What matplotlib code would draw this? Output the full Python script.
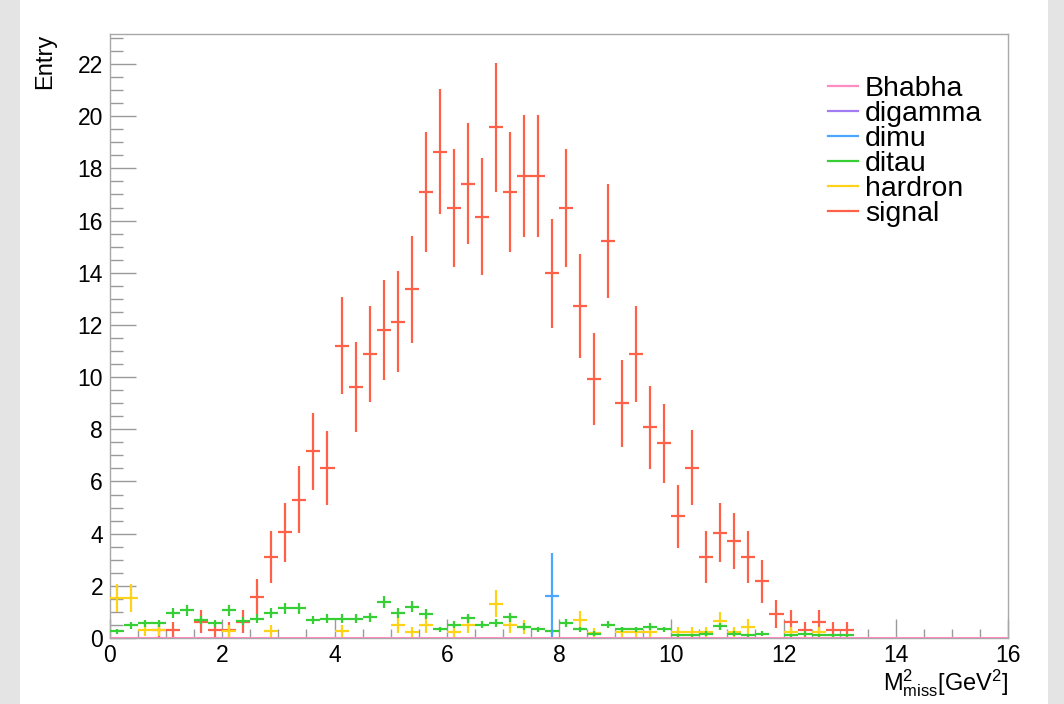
import numpy as np
import matplotlib
matplotlib.use('Agg')
import matplotlib.pyplot as plt
from matplotlib.patches import Rectangle

plt.rcParams['font.family'] = ['Liberation Sans', 'DejaVu Sans']
plt.rcParams['mathtext.fontset'] = 'custom'
plt.rcParams['mathtext.rm'] = 'Liberation Sans'
plt.rcParams['mathtext.it'] = 'Liberation Sans'

# histogram: 64 bins of 0.25 GeV^2 from 0 to 16
edges = np.linspace(0, 16, 65)

signal = [0, 0, 0, 0.31, 0.31, 0, 0.62, 0.31, 0.31, 0.62,
          1.56, 3.11, 4.05, 5.30, 7.15, 6.52, 11.21, 9.62, 10.88, 11.82,
          12.12, 13.36, 17.10, 18.64, 16.47, 17.41, 16.15, 19.58, 17.10, 17.71,
          17.71, 13.98, 16.47, 12.74, 9.94, 15.21, 9.00, 10.88, 8.08, 7.46,
          4.66, 6.53, 3.11, 4.04, 3.73, 3.11, 2.18, 0.93, 0.62, 0.31,
          0.62, 0.31, 0.31, 0, 0, 0, 0, 0, 0, 0,
          0, 0, 0, 0]
ditau = [0.26, 0.49, 0.56, 0.56, 0.97, 1.06, 0.68, 0.56, 1.06, 0.65,
         0.74, 0.97, 1.14, 1.14, 0.68, 0.74, 0.74, 0.74, 0.80, 1.38,
         0.97, 1.19, 0.91, 0.33, 0.51, 0.75, 0.51, 0.57, 0.80, 0.43,
         0.33, 0.26, 0.57, 0.33, 0.17, 0.51, 0.33, 0.33, 0.43, 0.33,
         0.10, 0.10, 0.17, 0.45, 0.17, 0.10, 0.17, 0, 0.10, 0.17,
         0.10, 0.10, 0.10, 0, 0, 0, 0, 0, 0, 0,
         0, 0, 0, 0]
hardron = [1.53, 1.53, 0.30, 0.30, 0, 0, 0, 0, 0.26, 0,
           0, 0.26, 0, 0, 0, 0, 0.26, 0, 0, 0,
           0.49, 0.23, 0.49, 0, 0.23, 0.49, 0, 1.32, 0.49, 0.42,
           0, 0, 0, 0.68, 0.20, 0, 0.23, 0.23, 0.23, 0,
           0.23, 0.23, 0.23, 0.65, 0.23, 0.43, 0, 0, 0.23, 0,
           0.23, 0, 0, 0, 0, 0, 0, 0, 0, 0,
           0, 0, 0, 0]
dimu = [0] * 31 + [1.62] + [0] * 32
digamma = [0] * 64
bhabha = [0] * 64

# per-event weights of each sample (error = sqrt(w * content))
weights = {'signal': 0.311, 'ditau': 0.037, 'hardron': 0.19, 'dimu': 1.62}

labels = ['Bhabha', 'digamma', 'dimu', 'ditau', 'hardron', 'signal']
colors = {'Bhabha': '#ff8cc0', 'digamma': '#a27cf2', 'dimu': '#4aa6ff',
          'ditau': '#36cf36', 'hardron': '#ffd21a', 'signal': '#ff6048'}

fig = plt.figure(figsize=(10.64, 7.04), dpi=100, facecolor='#e4e4e4')
fig.patches.append(Rectangle((20 / 1064, 0), 1028 / 1064, 1, transform=fig.transFigure,
                             facecolor='white', edgecolor='none', zorder=-10))
ax = fig.add_axes([110 / 1064, 66 / 704, 898 / 1064, 604 / 704])
ax.set_zorder(1)

centers = 0.5 * (edges[:-1] + edges[1:])
half = 0.5 * np.diff(edges)


def draw_err(vals, name, z):
    v = np.array(vals, dtype=float)
    m = v > 0
    err = np.sqrt(weights[name] * v[m])
    ax.errorbar(centers[m], v[m], xerr=half[m], yerr=err, fmt='none',
                ecolor=colors[name], elinewidth=1.6, capsize=0, zorder=z)


draw_err(signal, 'signal', 3)
draw_err(hardron, 'hardron', 4)
draw_err(ditau, 'ditau', 5)
draw_err(dimu, 'dimu', 6)
ax.stairs(digamma, edges, color=colors['digamma'], lw=2, zorder=6)
ax.stairs(bhabha, edges, color=colors['Bhabha'], lw=2.2, zorder=7)

ax.set_xlim(0, 16)
ax.set_ylim(0, 23.15)
ax.set_xticks(np.arange(0, 17, 2))
ax.set_xticks(np.arange(0, 16.01, 0.5), minor=True)
ax.set_yticks(np.arange(0, 23, 2))
ax.set_yticks(np.arange(0, 23.1, 0.5), minor=True)
ax.tick_params(axis='both', which='both', direction='in', color='#9a9a9a',
               labelsize=16.5, top=False, right=False)
ax.tick_params(axis='x', which='major', length=13.4, width=1, pad=4)
ax.tick_params(axis='x', which='minor', length=6.7, width=1)
ax.tick_params(axis='y', which='major', length=19, width=1, pad=5)
ax.tick_params(axis='y', which='minor', length=9.5, width=1)
for s in ax.spines.values():
    s.set_color('#a8a8a8')
    s.set_linewidth(1)

ax.set_ylabel('Entry', fontsize=17, loc='top')
ax.yaxis.set_label_coords(-0.06, 1)
ax.set_xlabel(r'$\mathrm{M^{2}_{miss}[GeV^{2}]}$', fontsize=17, loc='right')
ax.xaxis.set_label_coords(1, -0.048)

# legend drawn row by row (ROOT-style tight rows)
for i, name in enumerate(labels):
    ly = (638 - (86 + 25 * i)) / 604
    ax.plot([(828 - 110) / 898, (858 - 110) / 898], [ly, ly], color=colors[name],
            lw=1.6, transform=ax.transAxes, clip_on=False)
    ax.text((865 - 110) / 898, ly, name, fontsize=20.5, va='center_baseline',
            ha='left', transform=ax.transAxes)

fig.savefig('out.png', dpi=100, facecolor=fig.get_facecolor())
